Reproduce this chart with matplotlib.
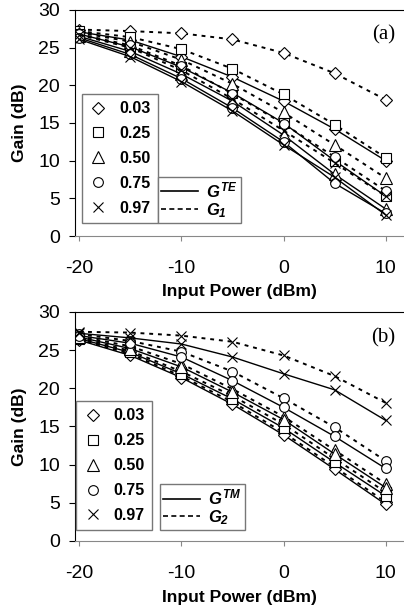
import matplotlib
matplotlib.use("Agg")
import matplotlib.pyplot as plt
from matplotlib.lines import Line2D

plt.rcParams['font.family'] = ['Liberation Sans', 'DejaVu Sans']
plt.rcParams['axes.unicode_minus'] = False
plt.rcParams['mathtext.fontset'] = 'custom'
plt.rcParams['mathtext.it'] = 'Liberation Sans:bold:italic'
plt.rcParams['mathtext.rm'] = 'Liberation Sans:bold:italic'
plt.rcParams['mathtext.bf'] = 'Liberation Sans:bold'

# input power (dBm)
power = [-20, -15, -10, -5, 0, 5, 10]
fractions = ['0.03', '0.25', '0.50', '0.75', '0.97']
markers = ['D', 's', '^', 'o', 'x']
msizes = [6, 7, 8, 7, 7]

# panel (a): G^TE (solid) and G_1 (dashed)
gte = [
    [27.1, 26.0, 23.8, 21.1, 17.9, 14.2, 10.0],
    [26.8, 25.1, 22.4, 19.0, 15.0, 10.0, 5.3],
    [26.5, 24.5, 21.5, 17.9, 13.4, 8.2, 3.6],
    [26.3, 24.1, 20.9, 17.0, 12.5, 7.0, 3.0],
    [26.1, 23.8, 20.5, 16.6, 12.1, 7.8, 2.8],
]
g1 = [
    [27.4, 27.2, 26.9, 26.1, 24.3, 21.6, 18.1],
    [27.2, 26.4, 24.8, 22.2, 18.8, 14.8, 10.4],
    [27.0, 25.8, 23.4, 20.2, 16.4, 12.1, 7.7],
    [26.8, 25.3, 22.6, 18.9, 14.9, 10.5, 6.0],
    [26.7, 25.0, 22.0, 18.2, 14.0, 9.7, 5.3],
]

# panel (b): G^TM (solid) and G_2 (dashed)
gtm = [
    [26.3, 24.3, 21.4, 17.9, 13.9, 9.4, 4.8],
    [26.5, 24.7, 21.9, 18.6, 14.8, 10.3, 5.9],
    [26.7, 25.2, 22.8, 19.5, 15.9, 11.4, 7.0],
    [26.9, 25.9, 24.1, 21.0, 17.5, 13.7, 9.5],
    [27.2, 26.6, 25.8, 24.1, 21.9, 19.8, 15.8],
]
g2 = [
    [26.4, 24.5, 21.6, 18.2, 14.2, 9.7, 5.1],
    [26.6, 24.9, 22.2, 19.0, 15.3, 10.8, 6.4],
    [26.8, 25.5, 23.2, 19.9, 16.3, 11.9, 7.5],
    [27.1, 26.2, 24.8, 22.2, 18.7, 14.9, 10.5],
    [27.4, 27.3, 26.9, 26.1, 24.3, 21.6, 18.1],
]

panels = [
    (gte, g1, r'$G^{TE}$', r'$G_1$', '(a)', [0.1856, 0.615, 0.8144, 0.3687],
     (0.02, 0.058), (0.252, 0.058), -0.212),
    (gtm, g2, r'$G^{TM}$', r'$G_2$', '(b)', [0.1856, 0.1175, 0.8144, 0.3736],
     (0.003, 0.047), (0.258, 0.047), -0.215),
]

fig = plt.figure(figsize=(4.04, 6.13), dpi=100)

for solid, dashed, lab_s, lab_d, tag, rect, leg1_pos, leg2_pos, xl_y in panels:
    ax = fig.add_axes(rect)
    for i in range(5):
        kw = dict(color='black', marker=markers[i], markersize=msizes[i],
                  markerfacecolor='white', markeredgecolor='black',
                  markeredgewidth=0.8)
        ax.plot(power, dashed[i], linestyle=(0, (2, 2.5)), linewidth=1.4, **kw)
        ax.plot(power, solid[i], linestyle='-', linewidth=1.0, **kw)

    ax.set_xlim(-20.42, 11.8)
    ax.set_ylim(0, 30)
    ax.set_xticks([-20, -10, 0, 10])
    ax.set_yticks(range(0, 31, 5))
    ax.tick_params(labelsize=14, direction='out', width=0.8)
    ax.tick_params(axis='y', length=4.3, pad=6.5)
    ax.tick_params(axis='x', length=3.6, pad=14, colors='#888888', labelcolor='black')
    ax.spines['right'].set_visible(False)
    ax.spines['bottom'].set_color('#888888')
    ax.spines['top'].set_linewidth(0.8)
    ax.spines['left'].set_linewidth(0.8)
    ax.set_xlabel('Input Power (dBm)', fontsize=12.5, fontweight='bold')
    ax.set_ylabel('Gain (dB)', fontsize=12.5, fontweight='bold')
    ax.xaxis.set_label_coords(0.5, xl_y)
    ax.yaxis.set_label_coords(-0.146, 0.5)
    ax.text(0.973, 0.889, tag, transform=ax.transAxes, ha='right', va='center',
            fontsize=15, family='Liberation Serif')

    mhandles = [Line2D([], [], color='black', linestyle='none', marker=markers[i],
                       markersize=msizes[i], markerfacecolor='white',
                       markeredgewidth=0.8) for i in range(5)]
    leg1 = ax.legend(mhandles, fractions, loc='lower left', bbox_to_anchor=leg1_pos,
                     prop={'weight': 'bold', 'size': 11.5}, fancybox=False,
                     edgecolor='#777777', framealpha=1, labelspacing=0.62,
                     handlelength=1.2, handletextpad=0.7, borderpad=0.45,
                     borderaxespad=0)
    leg1.get_frame().set_linewidth(1.0)
    ax.add_artist(leg1)

    lhandles = [Line2D([], [], color='black', linewidth=1.2, linestyle='-'),
                Line2D([], [], color='black', linewidth=1.2, linestyle=(0, (3, 2)))]
    leg2 = ax.legend(lhandles, [lab_s, lab_d], loc='lower left', bbox_to_anchor=leg2_pos,
                     prop={'size': 12}, fancybox=False, edgecolor='#777777',
                     framealpha=1, labelspacing=0.05, handlelength=2.2,
                     handletextpad=0.5, borderpad=0.2, borderaxespad=0)
    leg2.get_frame().set_linewidth(1.0)

fig.savefig('out.png', dpi=100)
